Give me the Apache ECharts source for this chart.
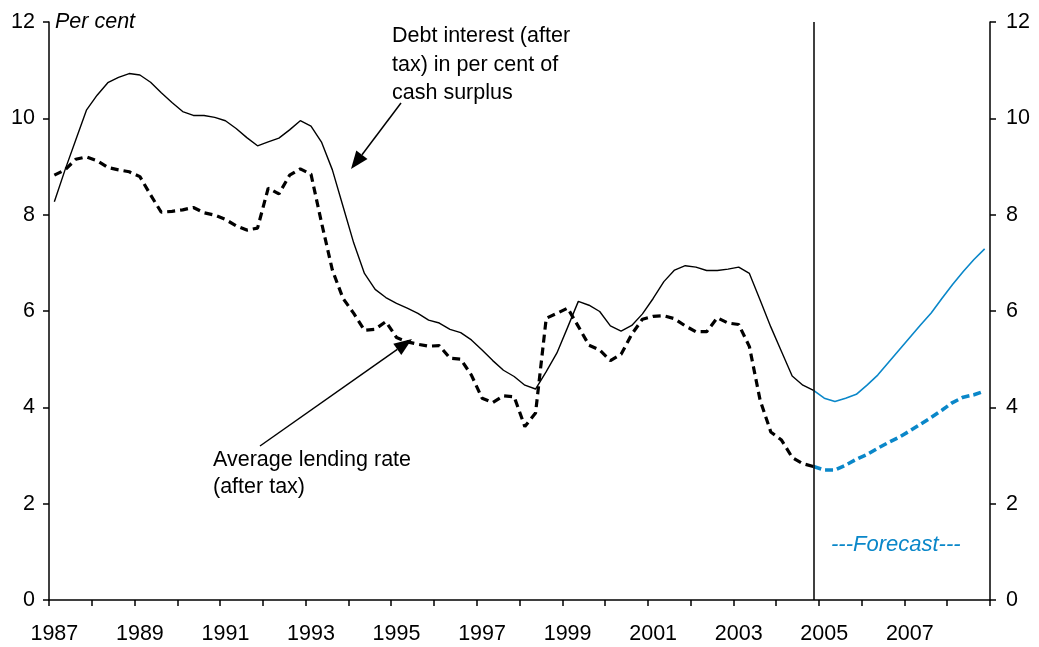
<!DOCTYPE html>
<html>
<head>
<meta charset="utf-8">
<script src="https://cdn.jsdelivr.net/npm/echarts@6/dist/echarts.min.js"></script>
<style>
html,body{margin:0;padding:0;background:#fff;}
#chart{width:1039px;height:647px;}
</style>
</head>
<body>
<div id="chart"></div>
<script>
// ---- data ----
const years = [1987,1988,1989,1990,1991,1992,1993,1994,1995,1996,1997,1998,1999,2000,2001,2002,2003,2004,2005,2006,2007,2008];
const quarters = ['Q1','Q2','Q3','Q4'];
const yTicks = [0,2,4,6,8,10,12];
const forecastStartIndex = 71; // 2004 Q4: last actual observation

// Debt interest (after tax) in per cent of cash surplus
const debtInterest = [
  8.27, 8.93, 9.55, 10.17, 10.48, 10.74, 10.85, 10.93,
  10.90, 10.75, 10.53, 10.33, 10.14, 10.06, 10.06, 10.02,
  9.95, 9.79, 9.60, 9.43, 9.51, 9.59, 9.76, 9.95,
  9.84, 9.50, 8.93, 8.17, 7.41, 6.78, 6.45, 6.28,
  6.16, 6.06, 5.95, 5.81, 5.75, 5.62, 5.55, 5.40,
  5.19, 4.97, 4.77, 4.64, 4.46, 4.38, 4.74, 5.13,
  5.66, 6.20, 6.12, 5.99, 5.69, 5.58, 5.70, 5.94,
  6.26, 6.61, 6.85, 6.94, 6.91, 6.84, 6.84, 6.87,
  6.91, 6.78, 6.23, 5.67, 5.16, 4.65, 4.46, 4.35,
  4.19, 4.12, 4.19, 4.27, 4.46, 4.67, 4.93, 5.19,
  5.45, 5.71, 5.96, 6.26, 6.55, 6.82, 7.07, 7.29
];

// Average lending rate (after tax)
const lendingRate = [
  8.82, 8.93, 9.15, 9.20, 9.12, 8.98, 8.93, 8.89,
  8.79, 8.41, 8.05, 8.07, 8.10, 8.15, 8.04, 7.99,
  7.90, 7.77, 7.68, 7.72, 8.55, 8.43, 8.82, 8.95,
  8.84, 7.82, 6.85, 6.26, 5.95, 5.60, 5.62, 5.78,
  5.45, 5.36, 5.31, 5.27, 5.28, 5.02, 5.00, 4.67,
  4.19, 4.10, 4.24, 4.22, 3.60, 3.88, 5.85, 5.95,
  6.06, 5.68, 5.29, 5.19, 4.97, 5.10, 5.52, 5.83,
  5.89, 5.90, 5.84, 5.69, 5.57, 5.57, 5.86, 5.75,
  5.72, 5.26, 4.15, 3.49, 3.32, 2.96, 2.83, 2.77,
  2.70, 2.70, 2.80, 2.92, 3.02, 3.15, 3.27, 3.38,
  3.51, 3.65, 3.79, 3.94, 4.10, 4.21, 4.26, 4.34
];

// ---- build ----
const categories = [];
years.forEach(y => quarters.forEach(q => categories.push(y + ' ' + q)));

function histPart(arr){ return arr.map((v,i)=> i <= forecastStartIndex ? v : null); }
function fcPart(arr){ return arr.map((v,i)=> i >= forecastStartIndex ? v : null); }

const FONT = '"Liberation Sans", Arial, sans-serif';
const BLUE = '#0a87c9';
const FS = 21.5;

const chart = echarts.init(document.getElementById('chart'), null, {renderer:'canvas'});

const yAxisCommon = {
  type:'value', min:0, max:12, interval:2,
  axisLine:{show:true, lineStyle:{color:'#000', width:1.5}},
  axisTick:{show:true, inside:false, length:6, lineStyle:{color:'#000', width:1.5}},
  splitLine:{show:false},
  axisLabel:{color:'#000', fontSize:FS, fontFamily:FONT, margin:14,
    formatter: v => (yTicks.indexOf(v) >= 0 ? String(v) : '')}
};

const option = {
  animation:false,
  backgroundColor:'#fff',
  grid:{left:49, right:49, top:22, bottom:47, containLabel:false},
  xAxis:{
    type:'category', data:categories, boundaryGap:true,
    axisLine:{show:true, onZero:false, lineStyle:{color:'#000', width:1.5}},
    axisTick:{show:true, interval:3, alignWithLabel:false, length:6, lineStyle:{color:'#000', width:1.5}},
    axisLabel:{interval:7, color:'#000', fontSize:FS, fontFamily:FONT, margin:23,
      formatter: v => v.split(' ')[0]},
    splitLine:{show:false}
  },
  yAxis:[
    Object.assign({}, yAxisCommon, {position:'left'}),
    Object.assign({}, yAxisCommon, {position:'right', axisLabel:Object.assign({}, yAxisCommon.axisLabel, {margin:16})})
  ],
  series:[
    {
      name:'Debt interest (after tax) in per cent of cash surplus',
      type:'line', data:histPart(debtInterest), symbol:'none', connectNulls:false,
      lineStyle:{color:'#000', width:1.4}, z:3,
      markLine:{
        silent:true, symbol:['none','none'], label:{show:false},
        lineStyle:{color:'#000', width:1.5, type:'solid'},
        data:[{xAxis: categories[forecastStartIndex]}]
      }
    },
    {
      name:'Debt interest forecast',
      type:'line', data:fcPart(debtInterest), symbol:'none', connectNulls:false,
      lineStyle:{color:BLUE, width:1.6}, z:3
    },
    {
      name:'Average lending rate (after tax)',
      type:'line', data:histPart(lendingRate), symbol:'none', connectNulls:false,
      lineStyle:{color:'#000', width:3.2, type:[8,5]}, z:2
    },
    {
      name:'Average lending rate forecast',
      type:'line', data:fcPart(lendingRate), symbol:'none', connectNulls:false,
      lineStyle:{color:BLUE, width:3.6, type:[8,4]}, z:2
    }
  ],
  graphic:[
    {type:'text', left:55, top:11, style:{text:'Per cent', font:'italic '+FS+'px '+FONT, fill:'#000'}},
    {type:'text', x:392, y:22, style:{text:'Debt interest (after\ntax) in per cent of\ncash surplus', font:FS+'px '+FONT, fill:'#000', lineHeight:28.5, verticalAlign:'top', align:'left'}},
    {type:'text', x:213, y:447, style:{text:'Average lending rate\n(after tax)', font:FS+'px '+FONT, fill:'#000', lineHeight:27, verticalAlign:'top', align:'left'}},
    {type:'text', x:831, y:545, style:{text:'---Forecast---', font:'italic 22px '+FONT, fill:BLUE, verticalAlign:'middle', align:'left'}},
    {type:'line', shape:{x1:401, y1:103, x2:362, y2:154.7}, style:{stroke:'#000', lineWidth:1.5}},
    {type:'polygon', shape:{points:[[351,169],[367.5,158.9],[356.3,150.5]]}, style:{fill:'#000'}},
    {type:'line', shape:{x1:260, y1:446, x2:397.3, y2:349.4}, style:{stroke:'#000', lineWidth:1.5}},
    {type:'polygon', shape:{points:[[412,339],[401.3,355.1],[393.3,343.7]]}, style:{fill:'#000'}}
  ]
};
chart.setOption(option);
</script>
</body>
</html>
